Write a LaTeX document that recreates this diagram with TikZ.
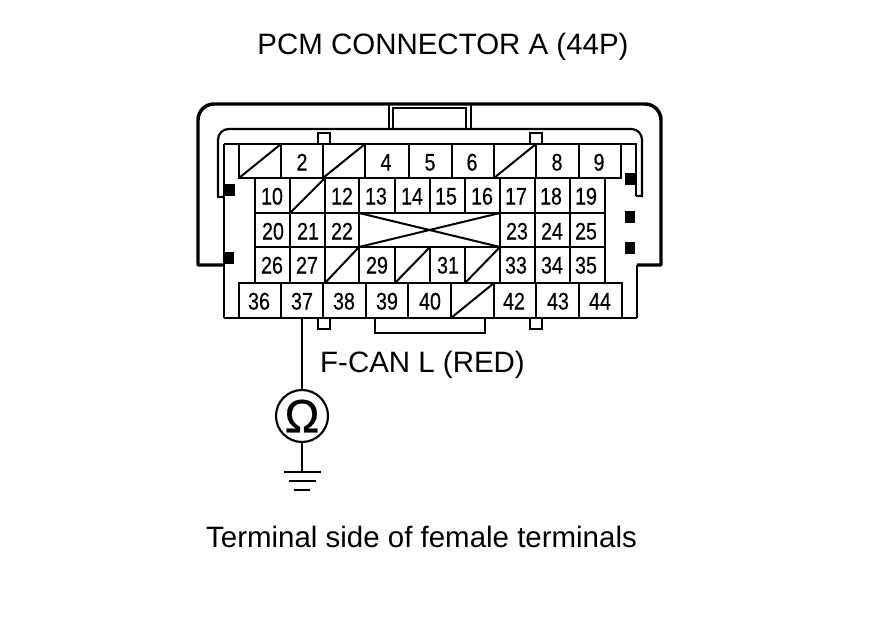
\documentclass[tikz,border=0pt]{standalone}
\usepackage{fontspec}
\setmainfont{Liberation Sans}
\newfontfamily\pinfont[FakeStretch=0.82,FakeBold=0.4]{Liberation Sans}
\newfontfamily\ohmfont[FakeBold=0.5]{Liberation Sans}
\tikzset{
	shell/.style={line width=2.6pt, line join=round},
	wall/.style={line width=1.6pt},
	rail/.style={line width=2.2pt},
	grid/.style={line width=1.5pt},
	pin/.style={font=\pinfont\fontsize{18}{18}\selectfont, inner sep=0pt, text height=12.8pt, text depth=0pt},
	title/.style={font=\fontsize{22.1}{24}\selectfont, inner sep=0pt},
	block/.style={fill, inner sep=0pt, minimum width=8pt, minimum height=8.5pt},
	tab/.style={wall, fill=white}
}
\begin{document}
\begin{tikzpicture}[x=0.75pt, y=-0.75pt]
		\useasboundingbox (0,0) rectangle (880,630);
		
		% Textos
		\node[title] (T1) at (443,47) {PCM CONNECTOR A (44P)};
		\node[title] (T2) at (422.5,365) {F-CAN L (RED)};
		\node[title] (T3) at (421.5,537) {Terminal side of female terminals};
		
		% Carcasa exterior y llave superior
		\draw[shell] (224,265) -- (198,265) [rounded corners=12pt] -- (198,104) -- (661,104) [sharp corners] -- (661,265) -- (637,265);
		\draw[wall] (389,104) -- (389,129);
		\draw[wall] (471,104) -- (471,129);
		\draw[wall] (393,129) -- (393,108) -- (466,108) -- (466,129);
		
		% Carcasa interior
		\draw[wall] (224,197) -- (218,197) [rounded corners=8pt] -- (218,129) -- (642,129) [sharp corners] -- (642,196) -- (636,196);
		\draw[wall] (224,144) -- (224,318);
		\draw[wall] (224,144) -- (636,144) -- (636,196);
		\draw[wall] (637,265) -- (637,318);
		\draw[rail] (224,318) -- (375,318) -- (375,333) -- (485,333) -- (485,318) -- (637,318);
		
		% Pestanas
		\foreach \xa in {318,530} {
			\draw[tab] (\xa,133) rectangle (\xa+12,144);
			\draw[tab] (\xa,318) rectangle (\xa+12,329);
		}
		
		% Bloques negros
		\foreach \xa/\ya in {230/190, 229/258, 630/179, 630/217, 630/248}
		\node[block] (B\xa\ya) at (\xa,\ya) {};
		
		% Filas de celdas
		\draw[grid] (239,144) rectangle (621,178);
		\draw[grid] (255,178) rectangle (605,283);
		\draw[grid] (239,283) rectangle (622,318);
		\draw[grid] (255,213) -- (605,213);
		\draw[grid] (255,247) -- (605,247);
		
		\foreach \xa in {281,323,365,409,452,494,536,579}
		\draw[grid] (\xa,144) -- (\xa,178);
		\foreach \xa in {290,325,359,395,430,465,500,535,570}
		\draw[grid] (\xa,178) -- (\xa,213);
		\foreach \xa in {290,325,359,500,535,570}
		\draw[grid] (\xa,213) -- (\xa,247);
		\foreach \xa in {290,325,359,395,430,465,500,535,570}
		\draw[grid] (\xa,247) -- (\xa,283);
		\foreach \xa in {281,323,366,408,451,494,536,579}
		\draw[grid] (\xa,283) -- (\xa,318);
		
		% Celdas vacias
		\foreach \xa/\ya/\xb/\yb in {239/178/281/144, 323/178/365/144, 494/178/536/144, 290/213/325/178,
			325/283/359/247, 395/283/430/247, 465/283/500/247, 451/318/494/283,
			359/213/500/247, 359/247/500/213}
		\draw[grid] (\xa,\ya) -- (\xb,\yb);
		
		% Numeros de terminal
		\foreach \xa/\lbl in {302/2, 386/4, 430/5, 472/6, 557/8, 599/9}
		\node[pin] (P\lbl) at (\xa,162) {\lbl};
		\foreach \xa/\lbl in {272/10, 342/12, 376/13, 412/14, 446/15, 482/16, 516/17, 551/18, 586/19}
		\node[pin] (P\lbl) at (\xa,196) {\lbl};
		\foreach \xa/\lbl in {273/20, 308/21, 342/22, 517/23, 552/24, 586/25}
		\node[pin] (P\lbl) at (\xa,231) {\lbl};
		\foreach \xa/\lbl in {272/26, 307/27, 377/29, 448/31, 516/33, 552/34, 586/35}
		\node[pin] (P\lbl) at (\xa,265) {\lbl};
		\foreach \xa/\lbl in {259/36, 302/37, 344/38, 387/39, 430/40, 514/42, 558/43, 600/44}
		\node[pin] (P\lbl) at (\xa,301) {\lbl};
		
		% Ohmimetro y tierra
		\coordinate (W) at (302,318);
		\coordinate (G) at (302,472);
		\node[draw, circle, line width=1.6pt, minimum size=39pt, inner sep=0pt, font=\ohmfont\fontsize{35}{35}\selectfont] (M) at (302,416) {Ω};
		\coordinate (G1a) at (284,472);
		\coordinate (G1b) at (321,472);
		\coordinate (G2a) at (289,481);
		\coordinate (G2b) at (316,481);
		\coordinate (G3a) at (294,490);
		\coordinate (G3b) at (310,490);
		\draw[line width=1.2pt] (W) -- (M);
		\draw[line width=1.2pt] (M) -- (G);
		\draw[line width=2.2pt] (G1a) -- (G1b);
		\draw[line width=1.4pt] (G2a) -- (G2b);
		\draw[line width=1.4pt] (G3a) -- (G3b);
		
	\end{tikzpicture}
\end{document}
